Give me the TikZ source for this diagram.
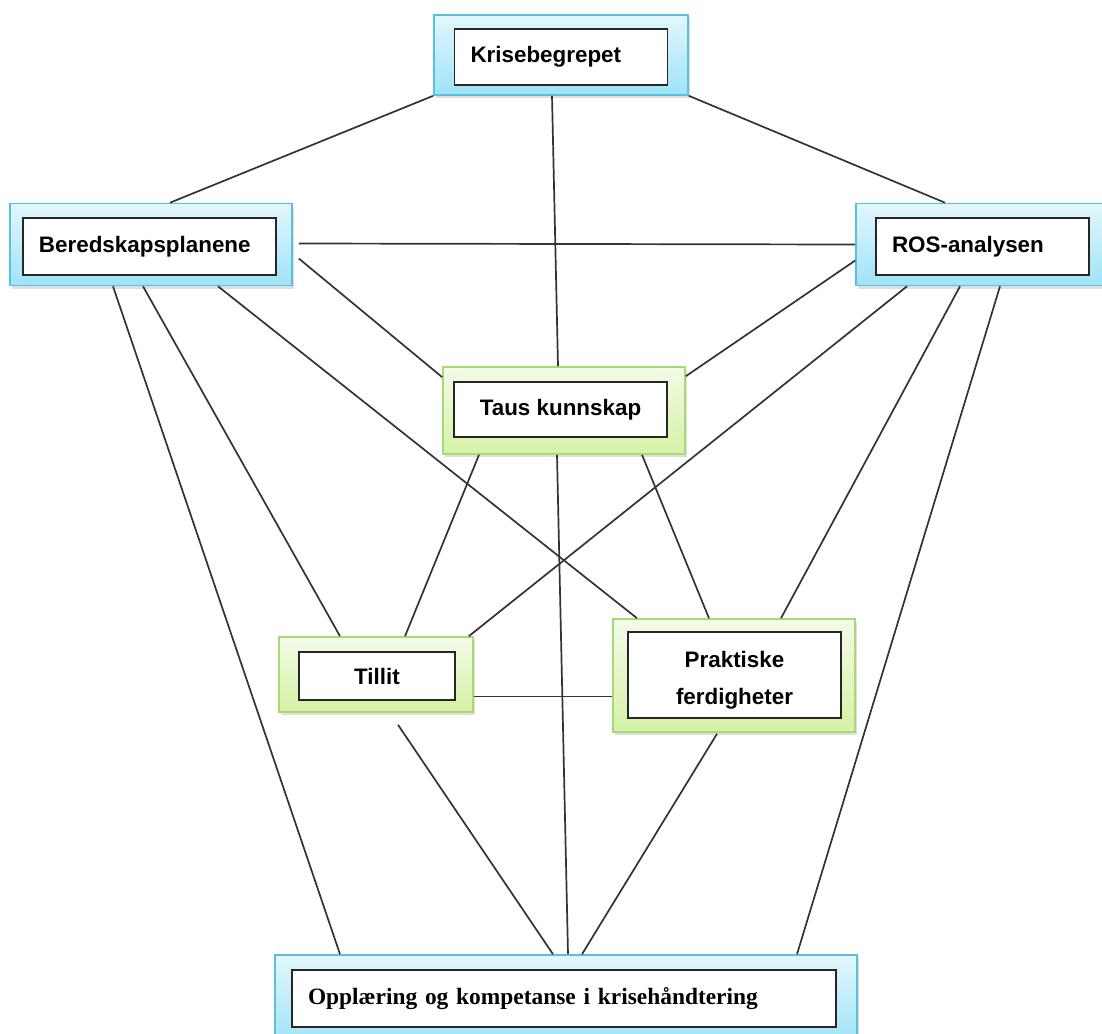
\documentclass[tikz,border=0pt]{standalone}
\usepackage{fontspec}
\setmainfont{Liberation Sans}
\newfontfamily\timesfont{Liberation Serif}
\usetikzlibrary{calc, shadows}

\definecolor{blueline}{HTML}{5BC0DE}
\definecolor{bluetop}{HTML}{E2F7FD}
\definecolor{bluebot}{HTML}{9FE3F7}
\definecolor{greenline}{HTML}{A8D974}
\definecolor{greentop}{HTML}{F3FBE8}
\definecolor{greenbot}{HTML}{D5F2A6}

\tikzset{
    bluebox/.style={draw=blueline, line width=0.8pt, top color=bluetop, bottom color=bluebot, inner sep=0pt,
        drop shadow={opacity=0.25, shadow xshift=1pt, shadow yshift=-1.5pt}},
    greenbox/.style={draw=greenline, line width=0.8pt, top color=greentop, bottom color=greenbot, inner sep=0pt,
        drop shadow={opacity=0.25, shadow xshift=1pt, shadow yshift=-1.5pt}},
    textbox/.style={draw=black!85, fill=white, line width=0.9pt, inner xsep=8pt, inner ysep=0pt,
        font=\bfseries\fontsize{11.2}{18.5}\selectfont},
    link/.style={draw=black!80, line width=0.85pt}
}

\begin{document}
\begin{tikzpicture}[x=0.5pt, y=-0.5pt]
    \useasboundingbox (0,0) rectangle (1102,1033);

    \node [bluebox, minimum width=127pt, minimum height=40pt] (krise) at (561,55) {};
    \node [textbox, text width=90.5pt, minimum height=28pt, align=left] (krise-in) at ($(krise)+(0,2)$) {Krisebegrepet};

    \node [bluebox, minimum width=141pt, minimum height=41pt] (bered) at (151,244.5) {};
    \node [textbox, text width=110.5pt, minimum height=28.5pt, align=left] (bered-in) at ($(bered)+(-1.5,2)$) {Beredskapsplanene};

    \node [bluebox, minimum width=127pt, minimum height=41pt] (ros) at (983,244.5) {};
    \node [textbox, text width=90.5pt, minimum height=28.5pt, align=left] (ros-in) at ($(ros)+(-0.5,2)$) {ROS-analysen};

    \node [greenbox, minimum width=121pt, minimum height=43.5pt] (taus) at (564,410.5) {};
    \node [textbox, minimum width=106.5pt, minimum height=27.5pt] (taus-in) at ($(taus)+(-3.5,-1)$) {Taus kunnskap};

    \node [greenbox, minimum width=97pt, minimum height=37.5pt] (tillit) at (376,674.5) {};
    \node [textbox, minimum width=78pt, minimum height=24pt] (tillit-in) at ($(tillit)+(1,1.5)$) {Tillit};

    \node [greenbox, minimum width=121pt, minimum height=56.5pt] (praktisk) at (734,675.5) {};
    \node [textbox, minimum width=106.5pt, minimum height=43pt, align=center] (praktisk-in) at ($(praktisk)+(0.5,-0.5)$) {\strut Praktiske\\ferdigheter};

    \node [bluebox, minimum width=291pt, minimum height=45pt] (opplaering) at (566,1000) {};
    \node [textbox, text width=256pt, minimum height=28.5pt, align=left, font=\timesfont\bfseries\fontsize{11.7}{14}\selectfont]
        (opplaering-in) at ($(opplaering)+(-2,-1.5)$) {Opplæring og kompetanse i krisehåndtering};

    \draw [link] (krise.south west) -- ($(bered.north)+(19,0)$);
    \draw [link] ($(krise.south)+(-9,0)$) -- ($(taus.north)+(-6,0)$);
    \draw [link] (krise.south east) -- ($(ros.north)+(-38,0)$);
    \draw [link] ($(bered.east)+(6,-1)$) -- (ros.west);
    \draw [link] ($(bered.east)+(6,14)$) -- ($(taus.north west)+(0,11)$);
    \draw [link] ($(bered.south)+(-38,0)$) -- ($(opplaering.north)+(-226,0)$);
    \draw [link] ($(bered.south)+(-8,0)$) -- ($(tillit.north)+(-36,0)$);
    \draw [link] ($(bered.south)+(67,0)$) -- ($(praktisk.north)+(-97,0)$);
    \draw [link] ($(ros.west)+(0,16)$) -- ($(taus.north east)+(0,10)$);
    \draw [link] ($(ros.south)+(-76,0)$) -- ($(tillit.north east)+(-5,0)$);
    \draw [link] ($(ros.south)+(-23,0)$) -- ($(praktisk.north)+(47,0)$);
    \draw [link] ($(ros.south)+(17,0)$) -- ($(opplaering.north)+(231,0)$);
    \draw [link] ($(taus.south)+(-85,0)$) -- ($(tillit.north)+(29,0)$);
    \draw [link] ($(taus.south)+(-7,0)$) -- ($(opplaering.north)+(2,0)$);
    \draw [link] ($(taus.south)+(78,0)$) -- ($(praktisk.north)+(-25,0)$);
    \draw [link] ($(tillit.east)+(0,22)$) -- ($(praktisk.west)+(0,21)$);
    \draw [link] ($(tillit.south)+(22,12)$) -- ($(opplaering.north)+(-13,0)$);
    \draw [link] ($(praktisk.south)+(-17,1)$) -- ($(opplaering.north)+(16,0)$);
\end{tikzpicture}
\end{document}
